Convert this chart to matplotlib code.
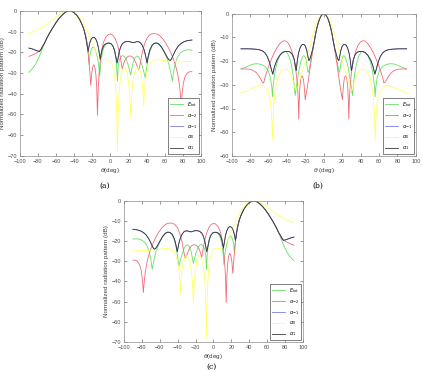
import numpy
import matplotlib
matplotlib.use('Agg')
import matplotlib.pyplot as plt

plt.rcParams['font.family'] = ['Liberation Sans', 'DejaVu Sans']
plt.rcParams['mathtext.fontset'] = 'dejavusans'

# ---- panel (a): beam steered to -45 deg ----
# main lobe shared by E_tot, alpha_-2, alpha_-1, alpha_1
a_main_th = [-70, -67, -64, -61, -58, -55, -52, -49, -46, -45, -43, -40, -37, -34, -31, -29]
a_main_db = [-13, -10.6, -8.4, -6.3, -4.4, -2.8, -1.5, -0.5, -0.05, 0, -0.2, -0.9, -2.2, -4.2, -7, -9.4]

a_tot_left_th = [-90, -88, -85, -82, -79, -76, -73]
a_tot_left_db = [-29.7, -28.8, -27.3, -25.3, -22.5, -19.3, -15.8]
a_tot_right_th = [-27, -25.5, -24.5, -23.5, -22.5, -21, -19.5, -18, -16.5, -15, -13.5, -12.5, -11.8, -11, -10,
                  -8.5, -7, -5, -3, -1, 1, 3, 4.5, 5.8, 6.8, 7.7, 8.6, 9.8, 11.5, 13.5, 15.5, 17.5, 19.5, 21,
                  22.4, 23.6, 25, 27, 29, 31, 33, 35, 37, 38.6, 40, 41.5, 43.5, 46, 48.5, 51, 53.5, 56.5,
                  59.5, 62.5, 65, 67, 68.4, 69.8, 71.5, 74, 77, 80, 83, 86, 90]
a_tot_right_db = [-12.5, -16, -20, -26, -21, -18.5, -17.6, -17.8, -19, -21.3, -24.5, -28, -31.6, -27, -23,
                  -19.5, -17.5, -16.2, -15.7, -15.6, -16, -17.2, -19, -22, -26, -34, -27, -24, -22.3, -21.6, -22, -23.5, -26, -28.5,
                  -31, -28, -25, -22.7, -21.8, -22.2, -23.8, -26.5, -29.5, -32.5, -27.5, -23.5, -19.8, -17, -15.8, -15.6, -16.2, -17.7,
                  -20, -23, -26.5, -30.5, -34, -29.5, -25.5, -22.5, -20.5, -19.5, -19, -18.8, -19]

a_m2_left_th = [-90, -87, -84, -81, -78.5, -76, -73]
a_m2_left_db = [-22, -21.5, -20.9, -20.2, -19.4, -18, -15.8]
a_m2_right_th = [-27, -25.5, -24.3, -23, -21.7, -20.6, -19.4, -18.2, -17, -16, -15.1, -14.3, -13.5, -12.5, -11,
                 -9.5, -7.5, -5, -2.5, 0, 2.5, 5, 7, 9, 11, 12.3, 13.2, 14.3, 16, 18, 20, 22.4, 24.5, 26.5,
                 28.5, 30.2, 31.6, 33, 35, 37.5, 40, 43, 46, 49, 52, 55, 58, 61, 64, 67, 70, 72.5, 74.5,
                 76.3, 77.5, 78.3, 79.2, 80.5, 82.5, 85, 87.5, 90]
a_m2_right_db = [-12.5, -17, -22, -28, -36, -30, -27, -26, -27.5, -31, -37, -50.4, -38, -30, -23.5,
                 -18.5, -15, -12.7, -11.5, -11.2, -11.7, -13.2, -15.3, -18.3, -22.5, -26, -28.1, -26, -23.8, -22.5, -21.9, -21.8, -22.3, -23.5,
                 -25.5, -27.5, -28.4, -25.5, -20.5, -16.3, -13.5, -11.7, -11.1, -11, -11.3, -12.2, -13.6, -15.5, -17.8, -20.5, -23.8, -27.3, -31,
                 -36, -41, -45.5, -40, -35, -31.7, -30, -29.4, -29.4]

a_p1_left_th = [-90, -87, -84, -81, -78.3, -76.5, -75, -73]
a_p1_left_db = [-18, -18.3, -18.8, -19.3, -19.6, -18.6, -17.2, -15.8]
a_p1_right_th = [-27.5, -26.3, -25.3, -24.6, -23.8, -22.5, -21, -19.5, -18, -16.5, -15, -13.5, -12.3, -11.2,
                 -10.3, -9, -7, -5, -3, -1, 1, 3, 4.5, 5.8, 6.8, 7.4, 8.2, 9.5, 11, 13, 15.5, 18, 20.5, 23,
                 25, 27, 29, 31, 33, 35, 37, 38.8, 40.4, 41.8, 43.5, 46, 48.5, 51, 53.5, 56.5, 59.5, 62.5,
                 64.5, 66, 67.5, 69.5, 72, 75, 78, 81, 85, 90]
a_p1_right_db = [-12.3, -15, -18, -19.6, -17.5, -15, -13.5, -12.9, -12.8, -13.4, -14.8, -17.2, -20.5, -23.5,
                 -21, -18.5, -16.6, -15.9, -15.6, -15.6, -16, -17.2, -19, -21.8, -24, -25.2, -23.5, -20.3, -17.8, -16, -15.1, -14.8, -14.8, -15.1,
                 -15.4, -15.2, -14.9, -14.9, -15.4, -16.5, -18.5, -21.5, -25.2, -22, -19, -16.6, -15.7, -15.5, -16, -17.5, -19.8, -22.2,
                 -23.6, -24, -23.2, -21.3, -19, -17, -15.8, -15, -14.4, -14.1]

a_0_th = [-90, -86, -82, -78, -74, -70, -66, -62, -58, -54, -50, -46, -43, -40, -37, -34, -31, -28, -25,
          -22, -19, -16, -13, -10, -7, -4, -1, 1.5, 3.5, 5, 6.2, 7, 7.7, 8.4, 9.3, 10.5, 12, 13.8, 15.5,
          17.2, 18.8, 20.2, 21.4, 22.4, 23.4, 24.6, 26, 28, 30, 32, 33.8, 35.2, 36.2, 36.8, 37.5, 38.6,
          40.3, 42.5, 45, 48, 51, 55, 60, 65, 70, 75, 80, 85, 90]
a_0_db = [-10.8, -10.2, -9.4, -8.6, -7.6, -6.5, -5.2, -3.8, -2.4, -1.2, -0.4, 0, -0.1, -0.6, -1.7, -3.2, -5.1, -7.4, -10.2,
          -13.3, -16.6, -19.6, -21.9, -23.2, -23.6, -23.5, -23.9, -25.5, -28.5, -33, -40, -50, -68, -52, -42, -35, -30.5, -28, -27.2,
          -28, -30.5, -35, -41, -51, -41, -35, -31, -28.3, -27.3, -28, -30.5, -35, -40, -46, -40, -34,
          -29.5, -26.5, -24.8, -23.9, -23.6, -23.7, -24, -24.3, -24.5, -24.6, -24.6, -24.5, -24.4]

# ---- panel (b): broadside beam, symmetric; values for theta >= 0 ----
b_main_th = [0, 1.5, 3, 4.5, 6, 7.5, 9, 10.5]
b_main_db = [0, -0.25, -0.9, -2.1, -3.8, -6, -8.7, -12]

b_tot_th = [12, 13.5, 15, 16.2, 17, 17.8, 19, 20.3, 21.5, 22.8, 24.2, 25.8, 27.5, 29, 30.3, 31.2, 32.2,
            33.5, 35.5, 38, 40.5, 42.5, 45, 48, 50.5, 52.5, 54.2, 55.2, 55.8, 56.5, 58, 60.5, 64, 68,
            72, 76, 80, 85, 90]
b_tot_db = [-15.3, -18.5, -21.5, -24, -24.8, -23.3, -20, -18.3, -17.7, -18, -19.3, -21.5, -25, -28.8, -32, -34.5, -30,
            -25.5, -21, -17.8, -16.2, -15.9, -16.3, -17.8, -20.3, -23.3, -27.5, -31, -35, -31, -27, -24, -22.2, -21.4,
            -21.1, -21.2, -21.7, -22.6, -23.3]

b_m2_th = [12, 13.5, 15, 16.5, 17.8, 19.2, 20.2, 21, 22, 23, 24, 25, 26, 26.7, 27.2, 27.8, 28.8, 30, 32,
           34.5, 37, 39.5, 42, 44.5, 47, 50, 53, 56, 59, 62, 64, 65.3, 66.5, 68, 70.5, 73.5, 77, 81,
           85, 90]
b_m2_db = [-15.6, -19.3, -23.2, -27.3, -30.8, -34, -36.3, -32, -28, -26.5, -26.2, -27.2, -31, -37, -44.5, -36, -29.5, -25, -20,
           -16, -13.5, -12, -11.4, -11.5, -12.3, -13.8, -15.8, -18.3, -21.2, -24.5, -27, -29.2, -29, -28, -26.3, -24.8, -23.9, -23.4,
           -23.3, -23.3]

b_p1_th = [12, 13.5, 15, 16.3, 17.3, 18.5, 20, 21.5, 23, 24.5, 26, 27.5, 28.8, 30, 30.8, 32, 34, 36.5,
           39, 42, 45, 48, 51, 53.5, 55.5, 57, 59, 61.5, 64, 67, 71, 76, 82, 90]
b_p1_db = [-14.8, -17, -19, -19.8, -18, -15.5, -13.7, -13, -12.9, -13.4, -14.6, -16.7, -19.8, -24, -22.5, -19.5, -17.3, -16.2,
           -15.9, -15.9, -16.4, -17.6, -19.6, -22.2, -25.5, -23.5, -20.5, -18, -16.5, -15.6, -15.1, -14.9, -14.8, -14.8]

b_0_th = [0, 3, 6, 9, 12, 15, 18, 21, 24, 26.5, 28.5, 30, 31.5, 33, 35, 37.5, 40, 42.4, 45, 47.5, 50,
          52, 53.5, 54.6, 55.3, 55.8, 56.4, 57.3, 58.7, 60.5, 63, 66, 69, 72, 76, 80, 85, 90]
b_0_db = [0, -0.6, -2.3, -5.1, -9, -13.3, -17.3, -21.2, -25, -28.5, -31.2, -32.3, -31.5, -29, -26.5, -24.6, -23.6, -23.4, -23.7, -25, -27.3,
          -30.5, -34.5, -40, -46, -53, -46, -40, -35.5, -33, -31.5, -30.6, -30.3, -30.5, -31.1, -31.9, -32.7, -33.3]

labels = ['$E_{tot}$', r'$\alpha_{-2}$', r'$\alpha_{-1}$', r'$\alpha_0$', r'$\alpha_1$']
colors = ['#66e066', '#f06a78', '#7b7bea', '#ffff66', '#3a3a3a']


def join(*parts):
    return numpy.concatenate([numpy.asarray(p, dtype=float) for p in parts])


def mirror(th, db):
    th = numpy.asarray(th, dtype=float)
    db = numpy.asarray(db, dtype=float)
    return numpy.concatenate([-th[::-1], th[1:]]), numpy.concatenate([db[::-1], db[1:]])


def flip(th, db):
    return -numpy.asarray(th)[::-1], numpy.asarray(db)[::-1]


a_tot = (join(a_tot_left_th, a_main_th, a_tot_right_th), join(a_tot_left_db, a_main_db, a_tot_right_db))
a_m2 = (join(a_m2_left_th, a_main_th, a_m2_right_th), join(a_m2_left_db, a_main_db, a_m2_right_db))
a_p1 = (join(a_p1_left_th, a_main_th, a_p1_right_th), join(a_p1_left_db, a_main_db, a_p1_right_db))
a_0 = (join(a_0_th), join(a_0_db))

# alpha_-1 is drawn under alpha_1 (hidden by it in the picture)
series_a = [a_tot, a_m2, a_p1, a_0, a_p1]
series_b = [mirror(join(b_main_th, b_tot_th), join(b_main_db, b_tot_db)),
            mirror(join(b_main_th, b_m2_th), join(b_main_db, b_m2_db)),
            mirror(join(b_main_th, b_p1_th), join(b_main_db, b_p1_db)),
            mirror(b_0_th, b_0_db),
            mirror(join(b_main_th, b_p1_th), join(b_main_db, b_p1_db))]
# panel (c): beam steered to +45 deg, the mirror image of panel (a)
series_c = [flip(t, d) for t, d in series_a]

fig = plt.figure(figsize=(4.23, 3.72), dpi=100)


def panel(rect, series, ylo, xlab):
    ax = fig.add_axes(rect)
    for (t, d), c, lab in zip(series, colors, labels):
        ax.plot(t, d, color=c, lw=0.6, label=lab)
    ax.set_xlim(-100, 100)
    ax.set_ylim(ylo, 0)
    ax.set_xticks(numpy.arange(-100, 101, 20))
    ax.set_yticks(numpy.arange(ylo, 1, 10))
    ax.tick_params(direction='in', length=2, width=0.4, labelsize=4, colors='0.3', pad=2,
                   top=True, right=True)
    for s in ax.spines.values():
        s.set_color('0.55')
        s.set_linewidth(0.5)
    ax.set_xlabel(xlab, fontsize=4.5, color='0.25', labelpad=1.5)
    ax.set_ylabel('Normalized radiation pattern (dB)', fontsize=4.5, color='0.25', labelpad=2)
    leg = ax.legend(loc='lower right', fontsize=3.6, handlelength=2.6, borderpad=0.4,
                    labelspacing=0.6, framealpha=1, fancybox=False, borderaxespad=0.3)
    leg.get_frame().set_linewidth(0.5)
    leg.get_frame().set_edgecolor('0.3')
    return ax


panel([0.047, 0.581, 0.428, 0.390], series_a, -70, r'$\theta$(deg)')
panel([0.548, 0.581, 0.435, 0.382], series_b, -60, r'$\theta$ (deg)')
panel([0.293, 0.081, 0.423, 0.379], series_c, -70, r'$\theta$(deg)')

cap = dict(fontsize=5.5, family='serif', ha='center', va='center')
fig.text(105 / 423, 1 - 186 / 372, '(a)', **cap)
fig.text(318 / 423, 1 - 186 / 372, '(b)', **cap)
fig.text(211 / 423, 1 - 367 / 372, '(c)', **cap)

fig.savefig('out.png', dpi=100)
